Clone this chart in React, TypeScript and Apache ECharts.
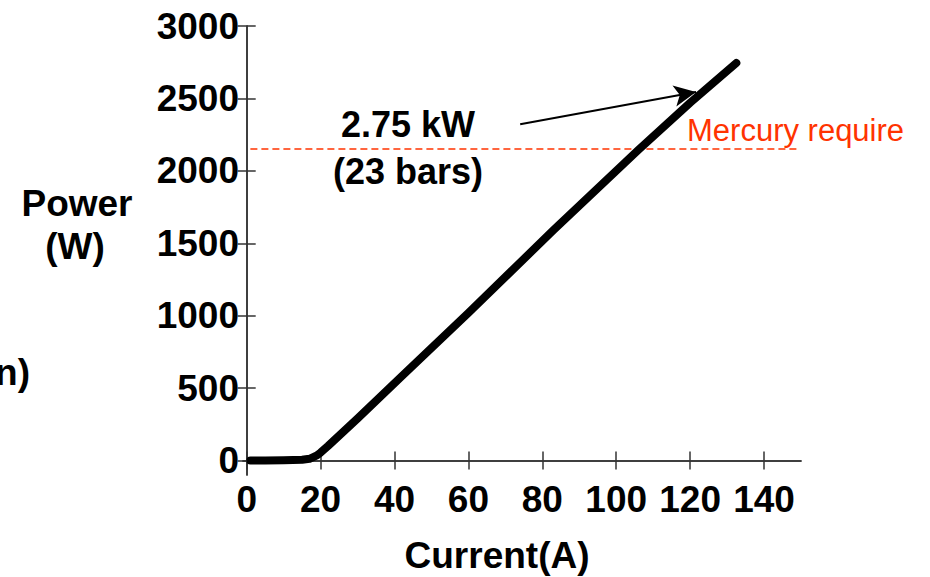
import React, { useEffect, useRef } from "react";
import * as echarts from "echarts";

const currentA = [1, 5, 10, 15, 17, 19, 20, 22, 30, 41.5, 60, 83, 106, 120, 132.5];
const powerW = [0, 0, 2, 5, 12, 35, 55, 100, 290, 570, 1020, 1590, 2145, 2470, 2745];
const xTicks = [0, 20, 40, 60, 80, 100, 120, 140];
const yTicks = [0, 500, 1000, 1500, 2000, 2500, 3000];
const mercuryX = [1, 149];
const mercuryLevel = 2150;
const arrowFrom = [74, 2322];
const arrowTo = [121.6, 2545];

const FONT = "'Liberation Sans', Arial, Helvetica, sans-serif";

export default function App() {
  const ref = useRef<HTMLDivElement>(null);
  useEffect(() => {
    document.body.style.margin = "0";
    const chart = echarts.init(ref.current!, null, { renderer: "svg" });
    const axisLine = { show: true, lineStyle: { color: "#333", width: 1.5 } };
    const tickStyle = { color: "#333", width: 1.5 };
    const labelStyle = {
      color: "#000",
      fontSize: 37,
      fontWeight: "bold" as const,
      fontFamily: FONT,
    };
    const plain = (v: number) => String(v);
    chart.setOption({
      animation: false,
      backgroundColor: "#fff",
      grid: { left: 243, right: 129, top: 26, bottom: 102, containLabel: false },
      xAxis: [
        {
          type: "value",
          position: "bottom",
          min: -1,
          max: 150,
          axisLine,
          axisTick: { show: true, inside: true, length: 9, customValues: xTicks, lineStyle: tickStyle },
          axisLabel: { ...labelStyle, margin: 6, customValues: xTicks, formatter: plain },
          splitLine: { show: false },
        },
        {
          type: "value",
          position: "top",
          min: -1,
          max: 150,
          axisLine,
          axisTick: { show: true, inside: true, length: 9, customValues: xTicks, lineStyle: tickStyle },
          axisLabel: { show: false },
          splitLine: { show: false },
        },
      ],
      yAxis: [
        {
          type: "value",
          position: "left",
          min: -100,
          max: 3000,
          axisLine,
          axisTick: { show: true, inside: true, length: 9, customValues: yTicks, lineStyle: tickStyle },
          axisLabel: { ...labelStyle, margin: 4, customValues: yTicks, formatter: plain },
          splitLine: { show: false },
        },
        {
          type: "value",
          position: "right",
          min: -100,
          max: 3000,
          axisLine,
          axisTick: { show: true, inside: true, length: 9, customValues: yTicks, lineStyle: tickStyle },
          axisLabel: { show: false },
          splitLine: { show: false },
        },
      ],
      series: [
        {
          type: "line",
          name: "Mercury require",
          data: mercuryX.map((x) => [x, mercuryLevel]),
          symbol: "none",
          silent: true,
          lineStyle: { color: "#FF3300", width: 1.5, type: [7, 4] },
        },
        {
          type: "line",
          name: "Power",
          data: currentA.map((x, i) => [x, powerW[i]]),
          symbol: "none",
          silent: true,
          lineStyle: { color: "#000", width: 8, cap: "round", join: "round" },
          markLine: {
            silent: true,
            symbol: ["none", "arrow"],
            symbolSize: [16, 22],
            label: { show: false },
            lineStyle: { color: "#000", width: 2, type: "solid" },
            data: [[{ coord: arrowFrom }, { coord: arrowTo }]],
          },
        },
      ],
      graphic: [
        { type: "text", x: 77, y: 203, style: { text: "Power", ...labelStyle, fill: "#000", textAlign: "center", textVerticalAlign: "middle" } },
        { type: "text", x: 75, y: 246, style: { text: "(W)", ...labelStyle, fill: "#000", textAlign: "center", textVerticalAlign: "middle" } },
        { type: "text", x: 497, y: 555, style: { text: "Current(A)", ...labelStyle, fill: "#000", textAlign: "center", textVerticalAlign: "middle" } },
        { type: "text", x: 30, y: 372, style: { text: "n)", ...labelStyle, fill: "#000", textAlign: "right", textVerticalAlign: "middle" } },
        { type: "text", x: 408, y: 124, style: { text: "2.75 kW", ...labelStyle, fontSize: 36, fill: "#000", textAlign: "center", textVerticalAlign: "middle" } },
        { type: "text", x: 408, y: 171, style: { text: "(23 bars)", ...labelStyle, fontSize: 36, fill: "#000", textAlign: "center", textVerticalAlign: "middle" } },
        { type: "text", x: 687, y: 130, style: { text: "Mercury require", fontSize: 31, fontFamily: FONT, fill: "#FF3300", textAlign: "left", textVerticalAlign: "middle" } },
      ],
    });
    return () => chart.dispose();
  }, []);
  return <div ref={ref} style={{ width: 930, height: 577 }} />;
}
